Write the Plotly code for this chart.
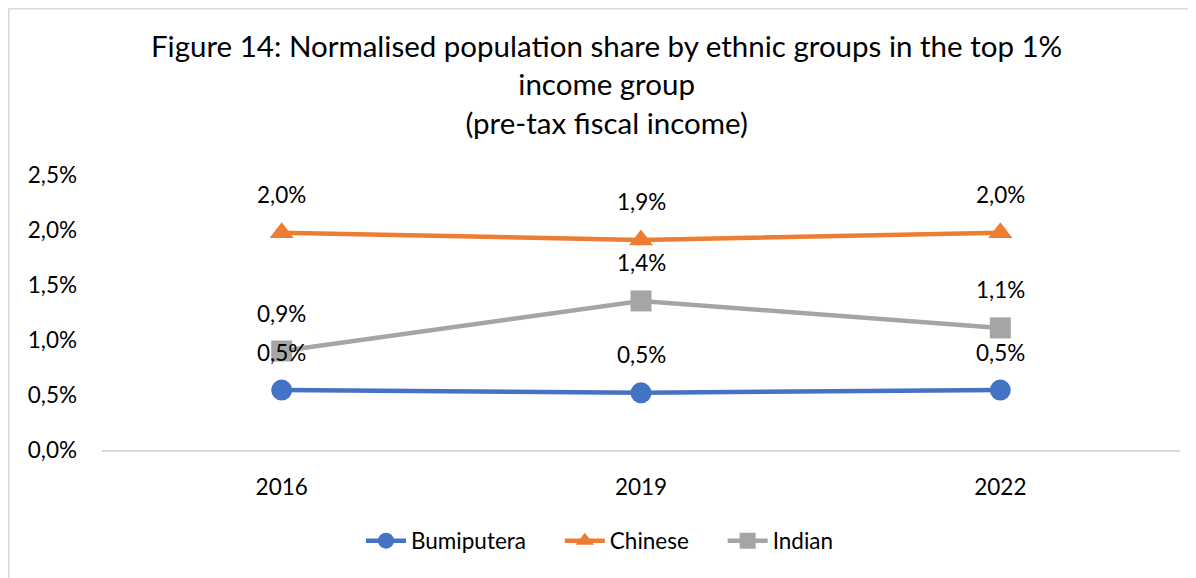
import plotly.graph_objects as go

years = ["2016", "2019", "2022"]
bumiputera = [0.00545, 0.0052, 0.00545]
chinese = [0.01975, 0.0191, 0.01975]
indian = [0.0090, 0.01355, 0.0111]
y_ticks = [0, 0.005, 0.01, 0.015, 0.02, 0.025]
title_text = ("Figure 14: Normalised population share by ethnic groups in the top 1%"
              "<br>income group<br>(pre-tax fiscal income)")

NB = "\u00a0"
series = [
    ("Bumiputera" + NB * 5, bumiputera, "#4472C4", "circle"),
    ("Chinese" + NB * 5, chinese, "#ED7D31", "triangle-up"),
    ("Indian", indian, "#A5A5A5", "square"),
]

FONT = "Lato"
FS = 22.5
W, H = 1196, 578
OFF = 8  # page body offset
L, T = 102 - OFF, 175 - OFF
pw, ph = 1078, 275
R = W - L - pw
B = H - T - ph


def py(pix):
    return (T + ph - (pix - OFF)) / ph


def px(pix):
    return ((pix - OFF) - L) / pw


fig = go.Figure()
annotations = []
for name, vals, color, sym in series:
    fig.add_trace(go.Scatter(
        x=years, y=vals, name=name, mode="lines+markers",
        line=dict(color=color, width=4.5),
        marker=dict(symbol=sym, size=21, color=color),
    ))
    for i, yv in enumerate(vals):
        annotations.append(dict(
            x=i, y=yv, xref="x", yref="y",
            text=f"{yv*100:.1f}%".replace(".", ","),
            showarrow=False, yshift=38,
            font=dict(family=FONT, size=FS, color="#000000"),
        ))

annotations.append(dict(
    x=px(606), y=py(84), xref="paper", yref="paper",
    xanchor="center", yanchor="middle", showarrow=False,
    text=title_text, align="center",
    font=dict(family=FONT, size=29.5, color="#000000"),
))

fig.update_layout(
    width=W, height=H,
    margin=dict(l=L, r=R, t=T, b=B, autoexpand=False),
    paper_bgcolor="white", plot_bgcolor="white",
    separators=",.",
    font=dict(family=FONT, size=FS, color="#000000"),
    showlegend=True,
    legend=dict(
        orientation="h", x=px(600), xanchor="center",
        y=py(541), yanchor="middle",
        font=dict(family=FONT, size=FS, color="#000000"),
        itemwidth=40,
    ),
    annotations=annotations,
    shapes=[dict(
        type="rect", xref="paper", yref="paper",
        x0=-(L - 0.75) / pw, x1=(pw + R + 10) / pw,
        y0=-(B + 10) / ph, y1=(ph + T - 0.75) / ph,
        line=dict(color="#D9D9D9", width=1.5), layer="below",
    )],
    xaxis=dict(
        type="category", range=[-0.5, 2.5], automargin=False,
        showgrid=False, zeroline=False,
        showline=True, linecolor="#D9D9D9", linewidth=1.5,
        ticks="", ticklabelstandoff=16,
        tickfont=dict(family=FONT, size=FS, color="#000000"),
    ),
    yaxis=dict(
        range=[0, 0.025], tickvals=y_ticks, tickformat=".1%",
        automargin=False,
        showgrid=False, zeroline=False, showline=False,
        ticks="", ticklabelstandoff=24,
        tickfont=dict(family=FONT, size=FS, color="#000000"),
    ),
)

fig.write_html("out.html")
